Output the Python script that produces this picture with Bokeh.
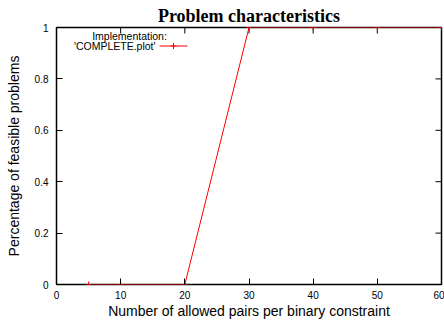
from bokeh.plotting import figure
from bokeh.models import (LinearAxis, FixedTicker, NumeralTickFormatter, Label,
                          Range1d)
from bokeh.embed import file_html
from bokeh.resources import INLINE

# Allowed pairs per binary constraint vs. share of feasible problems
pairs = [5, 10, 20, 30, 40, 50, 60]
feasible = [0, 0, 0, 1, 1, 1, 1]

x_ticks = [0, 10, 20, 30, 40, 50, 60]
y_ticks = [0, 0.2, 0.4, 0.6, 0.8, 1]

series_name = "'COMPLETE.plot'"
legend_title = "Implementation:"

SANS = "Liberation Sans"
X0, X1, Y0, Y1 = 0, 60, 0, 1
FRAME_W, FRAME_H = 385, 257   # frame size in px (444 - 56 - 3, 321 - 27 - 37)
TICK_PX = 6
PX_X = (X1 - X0) / FRAME_W     # data units per pixel
PX_Y = (Y1 - Y0) / FRAME_H

p = figure(width=444, height=321, output_backend="svg", toolbar_location=None,
           x_range=Range1d(X0, X1), y_range=Range1d(Y0, Y1),
           min_border_left=56, min_border_right=3, min_border_top=27,
           min_border_bottom=37, x_axis_location=None, y_axis_location=None)

p.title.text = "Problem characteristics"
p.title.text_font = "Liberation Serif"
p.title.text_font_size = "18px"
p.title.text_font_style = "bold"
p.title.text_color = "black"
p.title.align = "center"
p.title.standoff = 4

p.grid.visible = False
p.outline_line_color = "black"
p.outline_line_width = 1.5
p.background_fill_color = "white"
p.border_fill_color = "white"


def make_axis(ticks, label):
    ax = LinearAxis(ticker=FixedTicker(ticks=ticks))
    ax.axis_line_color = None
    ax.major_tick_in = TICK_PX
    ax.major_tick_out = 0
    ax.major_tick_line_color = "black"
    ax.major_tick_line_width = 1
    ax.minor_tick_line_color = None
    ax.formatter = NumeralTickFormatter(format="0.[0]")
    ax.major_label_text_font = SANS
    ax.major_label_text_font_size = "10px"
    ax.major_label_text_color = "black"
    ax.axis_label = label
    ax.axis_label_text_font = SANS
    ax.axis_label_text_font_size = "14px"
    ax.axis_label_text_font_style = "normal"
    ax.axis_label_text_color = "black"
    return ax


xb = make_axis(x_ticks, "Number of allowed pairs per binary constraint")
xb.major_label_standoff = 6
xb.axis_label_standoff = 1
yl = make_axis(y_ticks, "Percentage of feasible problems")
yl.major_label_standoff = 8
yl.axis_label_standoff = 10
p.add_layout(xb, "below")
p.add_layout(yl, "left")

# mirrored inward ticks on the top and right edges of the frame
p.segment(x0=x_ticks, y0=[Y1] * len(x_ticks), x1=x_ticks,
          y1=[Y1 - TICK_PX * PX_Y] * len(x_ticks), line_color="black",
          line_width=1)
p.segment(x0=[X1] * len(y_ticks), y0=y_ticks,
          x1=[X1 - TICK_PX * PX_X] * len(y_ticks), y1=y_ticks,
          line_color="black", line_width=1)

# data series
p.line(pairs, feasible, line_color="red", line_width=1)
p.scatter(pairs, feasible, marker="cross", size=6, line_color="red",
          line_width=1)

# key box in the upper-left corner: text on the left, sample on the right
KEY_LEFT, KEY_RIGHT, KEY_ROW = 103, 131, 18.5   # px from frame left / top
key_y = Y1 - KEY_ROW * PX_Y
p.segment(x0=[X0 + KEY_LEFT * PX_X], y0=[key_y], x1=[X0 + KEY_RIGHT * PX_X],
          y1=[key_y], line_color="red", line_width=1)
p.scatter(x=[X0 + (KEY_LEFT + KEY_RIGHT) / 2 * PX_X], y=[key_y],
          marker="cross", size=6, line_color="red", line_width=1)

p.add_layout(Label(x=X0 + 99 * PX_X, y=key_y, text=series_name,
                   text_align="right", text_baseline="middle", text_font=SANS,
                   text_font_size="10.5px", text_color="black"))
p.add_layout(Label(x=X0 + 73 * PX_X, y=Y1 - 8 * PX_Y, text=legend_title,
                   text_align="center", text_baseline="middle",
                   text_font=SANS, text_font_size="10.5px",
                   text_color="black"))

open("out.html", "w").write(file_html(p, INLINE))
